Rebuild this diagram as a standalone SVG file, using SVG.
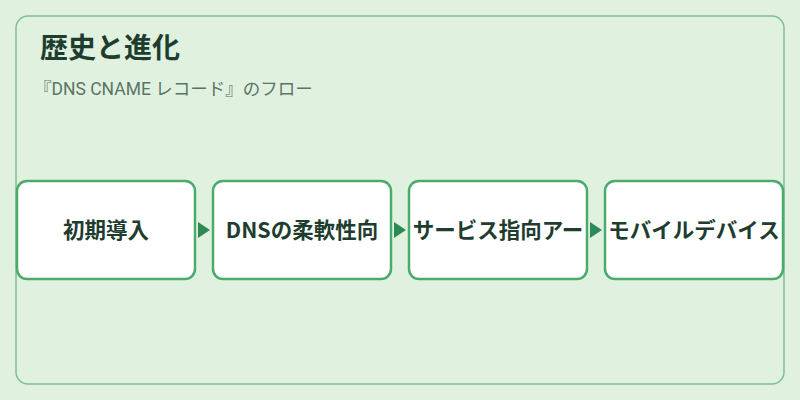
<svg xmlns="http://www.w3.org/2000/svg" width="800" height="400" viewBox="0 0 800 400">
<style>
.node rect{fill:#fff;stroke:#4caa6c;stroke-width:2.5}
.node text{font-family:"Noto Sans CJK JP","Noto Sans",sans-serif;font-size:21.5px;font-weight:bold;fill:#1e3d2f;text-anchor:middle}
</style>
<rect width="800" height="400" fill="#e0f2df"/>
<rect x="16" y="16" width="768" height="368" rx="12" fill="#e0f2df" stroke="#7cc08f" stroke-width="1.5"/>
<text x="40" y="58" font-family="Noto Sans CJK JP,sans-serif" font-size="28" font-weight="bold" fill="#1e3d2f">歴史と進化</text>
<text x="34" y="95" font-family="Roboto,Noto Sans CJK JP,sans-serif" font-size="17.5" fill="#5a7565">『DNS CNAME レコード』のフロー</text>
<g id="n1" class="node"><rect x="17" y="181" width="178" height="98" rx="10"/><text x="106" y="238">初期導入</text></g>
<g id="n2" class="node"><rect x="213" y="181" width="178" height="98" rx="10"/><text x="302" y="238">DNSの柔軟性向</text></g>
<g id="n3" class="node"><rect x="409" y="181" width="178" height="98" rx="10"/><text x="498" y="238">サービス指向アー</text></g>
<g id="n4" class="node"><rect x="605" y="181" width="178" height="98" rx="10"/><text x="694" y="238">モバイルデバイス</text></g>
<g id="edges" fill="#2e8a55">
<path d="M198,222 L210,230 L198,238z"/>
<path d="M394,222 L406,230 L394,238z"/>
<path d="M590,222 L602,230 L590,238z"/>
</g>
</svg>
